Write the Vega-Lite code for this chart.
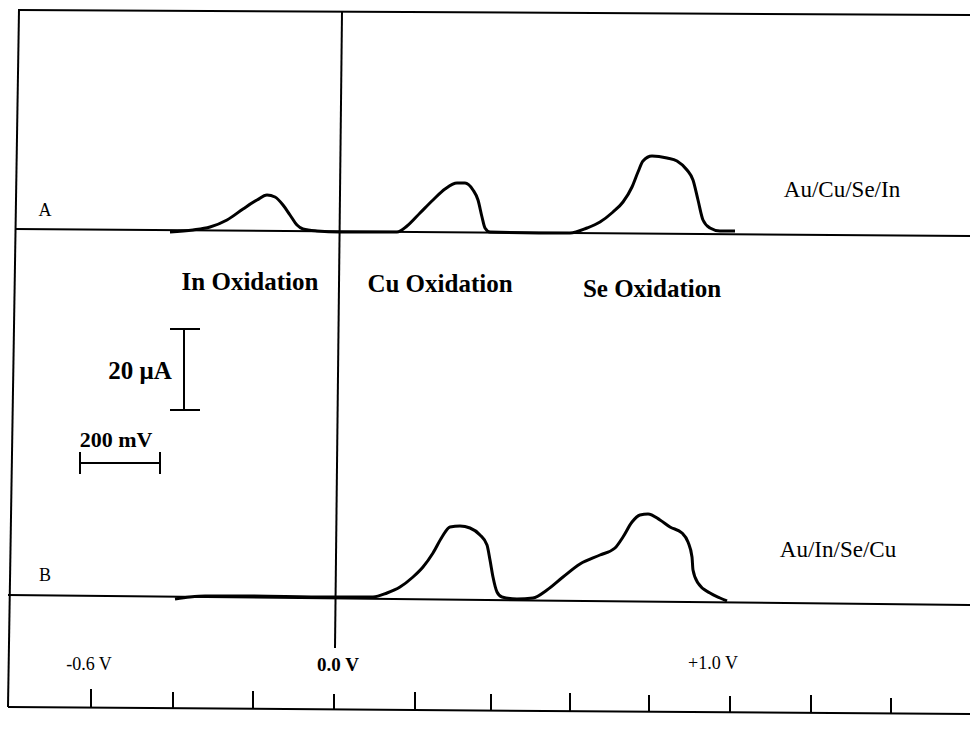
{
  "$schema": "https://vega.github.io/schema/vega-lite/v6.json",
  "width": 970,
  "height": 729,
  "padding": 0,
  "autosize": {"type": "none"},
  "background": "white",
  "config": {"view": {"stroke": null}, "text": {"font": "Liberation Serif", "color": "black"}},
  "datasets": {
    "frame": [
      {"part": "top", "V": -0.785, "y": 179.75, "V2": 1.595, "y2": 178.5},
      {"part": "left", "V": -0.7825, "y": 179.75, "V2": -0.81, "y2": 5.5},
      {"part": "zero", "V": 0.025, "y": 179.25, "V2": 0.0075, "y2": 20.25},
      {"part": "baseA", "V": -0.7925, "y": 125, "V2": 1.595, "y2": 123.25},
      {"part": "baseB", "V": -0.81, "y": 33.5, "V2": 1.595, "y2": 31},
      {"part": "bottom", "V": -0.81, "y": 5.5, "V2": 1.595, "y2": 3.75},
      {"part": "barV", "V": -0.37, "y": 100, "V2": -0.37, "y2": 79.75},
      {"part": "barVcap1", "V": -0.405, "y": 100, "V2": -0.33, "y2": 100},
      {"part": "barVcap2", "V": -0.405, "y": 79.75, "V2": -0.33, "y2": 79.75},
      {"part": "barH", "V": -0.63, "y": 66.5, "V2": -0.43, "y2": 66.5},
      {"part": "barHcap1", "V": -0.63, "y": 69.25, "V2": -0.63, "y2": 63.75},
      {"part": "barHcap2", "V": -0.43, "y": 69.25, "V2": -0.43, "y2": 63.75}
    ],
    "ticks": [
      {"V": -0.6025, "y": 5.4, "y2": 10},
      {"V": -0.3975, "y": 5.25, "y2": 9.25},
      {"V": -0.1975, "y": 5.1, "y2": 9.5},
      {"V": 0.005, "y": 4.95, "y2": 8.75},
      {"V": 0.2075, "y": 4.8, "y2": 9.25},
      {"V": 0.3975, "y": 4.65, "y2": 8.75},
      {"V": 0.595, "y": 4.5, "y2": 9},
      {"V": 0.7925, "y": 4.35, "y2": 8.5},
      {"V": 0.995, "y": 4.2, "y2": 8.25},
      {"V": 1.1975, "y": 4.05, "y2": 8.5},
      {"V": 1.3975, "y": 3.9, "y2": 7.75}
    ],
    "curves": [
      {"trace": "A", "i": 1, "V": -0.405, "y": 124.25},
      {"trace": "A", "i": 2, "V": -0.3475, "y": 124.75},
      {"trace": "A", "i": 3, "V": -0.305, "y": 125.5},
      {"trace": "A", "i": 4, "V": -0.2625, "y": 127.25},
      {"trace": "A", "i": 5, "V": -0.2225, "y": 130},
      {"trace": "A", "i": 6, "V": -0.1875, "y": 132.25},
      {"trace": "A", "i": 7, "V": -0.1625, "y": 133.5},
      {"trace": "A", "i": 8, "V": -0.1425, "y": 133},
      {"trace": "A", "i": 9, "V": -0.1225, "y": 131},
      {"trace": "A", "i": 10, "V": -0.105, "y": 128.5},
      {"trace": "A", "i": 11, "V": -0.0875, "y": 126},
      {"trace": "A", "i": 12, "V": -0.0725, "y": 125},
      {"trace": "A", "i": 13, "V": -0.0375, "y": 124.5},
      {"trace": "A", "i": 14, "V": 0.02, "y": 124.25},
      {"trace": "A", "i": 15, "V": 0.1625, "y": 124.25},
      {"trace": "A", "i": 16, "V": 0.1875, "y": 125.75},
      {"trace": "A", "i": 17, "V": 0.22, "y": 129},
      {"trace": "A", "i": 18, "V": 0.2525, "y": 132.25},
      {"trace": "A", "i": 19, "V": 0.2825, "y": 135},
      {"trace": "A", "i": 20, "V": 0.3125, "y": 136.5},
      {"trace": "A", "i": 21, "V": 0.3325, "y": 136.5},
      {"trace": "A", "i": 22, "V": 0.3525, "y": 134.75},
      {"trace": "A", "i": 23, "V": 0.365, "y": 132.25},
      {"trace": "A", "i": 24, "V": 0.375, "y": 128},
      {"trace": "A", "i": 25, "V": 0.3825, "y": 125.25},
      {"trace": "A", "i": 26, "V": 0.395, "y": 124.25},
      {"trace": "A", "i": 27, "V": 0.595, "y": 124},
      {"trace": "A", "i": 28, "V": 0.6375, "y": 125.25},
      {"trace": "A", "i": 29, "V": 0.67, "y": 126.75},
      {"trace": "A", "i": 30, "V": 0.7025, "y": 129.25},
      {"trace": "A", "i": 31, "V": 0.7275, "y": 131.75},
      {"trace": "A", "i": 32, "V": 0.75, "y": 135.5},
      {"trace": "A", "i": 33, "V": 0.765, "y": 139.25},
      {"trace": "A", "i": 34, "V": 0.7775, "y": 142},
      {"trace": "A", "i": 35, "V": 0.8, "y": 143.25},
      {"trace": "A", "i": 36, "V": 0.8375, "y": 142.75},
      {"trace": "A", "i": 37, "V": 0.8625, "y": 142},
      {"trace": "A", "i": 38, "V": 0.8875, "y": 139.75},
      {"trace": "A", "i": 39, "V": 0.9025, "y": 137.25},
      {"trace": "A", "i": 40, "V": 0.915, "y": 132.25},
      {"trace": "A", "i": 41, "V": 0.9275, "y": 127.25},
      {"trace": "A", "i": 42, "V": 0.945, "y": 125.25},
      {"trace": "A", "i": 43, "V": 0.97, "y": 124.5},
      {"trace": "A", "i": 44, "V": 1.0075, "y": 124.5},
      {"trace": "B", "i": 1, "V": -0.3925, "y": 32.5},
      {"trace": "B", "i": 2, "V": -0.355, "y": 33},
      {"trace": "B", "i": 3, "V": -0.3175, "y": 33.25},
      {"trace": "B", "i": 4, "V": -0.23, "y": 33.25},
      {"trace": "B", "i": 5, "V": -0.005, "y": 33},
      {"trace": "B", "i": 6, "V": 0.1025, "y": 33},
      {"trace": "B", "i": 7, "V": 0.1375, "y": 34},
      {"trace": "B", "i": 8, "V": 0.17, "y": 35.5},
      {"trace": "B", "i": 9, "V": 0.2025, "y": 38},
      {"trace": "B", "i": 10, "V": 0.2275, "y": 40.5},
      {"trace": "B", "i": 11, "V": 0.2525, "y": 44},
      {"trace": "B", "i": 12, "V": 0.275, "y": 48},
      {"trace": "B", "i": 13, "V": 0.295, "y": 50.5},
      {"trace": "B", "i": 14, "V": 0.32, "y": 50.75},
      {"trace": "B", "i": 15, "V": 0.345, "y": 50.25},
      {"trace": "B", "i": 16, "V": 0.37, "y": 48.5},
      {"trace": "B", "i": 17, "V": 0.3875, "y": 46},
      {"trace": "B", "i": 18, "V": 0.395, "y": 42.25},
      {"trace": "B", "i": 19, "V": 0.4025, "y": 38},
      {"trace": "B", "i": 20, "V": 0.4125, "y": 34.25},
      {"trace": "B", "i": 21, "V": 0.425, "y": 33},
      {"trace": "B", "i": 22, "V": 0.4625, "y": 32.5},
      {"trace": "B", "i": 23, "V": 0.5025, "y": 32.75},
      {"trace": "B", "i": 24, "V": 0.5375, "y": 34.75},
      {"trace": "B", "i": 25, "V": 0.5775, "y": 38},
      {"trace": "B", "i": 26, "V": 0.62, "y": 41.25},
      {"trace": "B", "i": 27, "V": 0.67, "y": 43.5},
      {"trace": "B", "i": 28, "V": 0.7075, "y": 45.25},
      {"trace": "B", "i": 29, "V": 0.7275, "y": 48},
      {"trace": "B", "i": 30, "V": 0.75, "y": 51.75},
      {"trace": "B", "i": 31, "V": 0.77, "y": 53.5},
      {"trace": "B", "i": 32, "V": 0.79, "y": 53.75},
      {"trace": "B", "i": 33, "V": 0.82, "y": 52.25},
      {"trace": "B", "i": 34, "V": 0.845, "y": 50.5},
      {"trace": "B", "i": 35, "V": 0.875, "y": 49},
      {"trace": "B", "i": 36, "V": 0.89, "y": 46.75},
      {"trace": "B", "i": 37, "V": 0.9, "y": 43},
      {"trace": "B", "i": 38, "V": 0.9025, "y": 39.75},
      {"trace": "B", "i": 39, "V": 0.915, "y": 36.5},
      {"trace": "B", "i": 40, "V": 0.945, "y": 34},
      {"trace": "B", "i": 41, "V": 0.97, "y": 32.75},
      {"trace": "B", "i": 42, "V": 0.9875, "y": 32}
    ],
    "labels": [
      {"group": "ox", "text": "In Oxidation", "V": -0.205, "y": 111.75},
      {"group": "ox", "text": "Cu Oxidation", "V": 0.27, "y": 111.25},
      {"group": "ox", "text": "Se Oxidation", "V": 0.8, "y": 110},
      {"group": "mu", "text": "20 μA", "V": -0.48, "y": 89.5},
      {"group": "scale", "text": "200 mV", "V": -0.54, "y": 72.25},
      {"group": "sample", "text": "Au/Cu/Se/In", "V": 1.275, "y": 134.75},
      {"group": "sample", "text": "Au/In/Se/Cu", "V": 1.265, "y": 44.75},
      {"group": "letter", "text": "A", "V": -0.7175, "y": 129.5},
      {"group": "letter", "text": "B", "V": -0.7175, "y": 38.25},
      {"group": "tick", "text": "-0.6 V", "V": -0.6075, "y": 16},
      {"group": "tick", "text": "+1.0 V", "V": 0.9525, "y": 16.25},
      {"group": "zero", "text": "0.0 V", "V": 0.015, "y": 16}
    ]
  },
  "encoding": {
    "x": {"field": "V", "type": "quantitative", "scale": {"domain": [-0.83, 1.595], "nice": false, "zero": false}, "axis": null},
    "y": {"field": "y", "type": "quantitative", "scale": {"domain": [0, 182.25], "nice": false, "zero": false}, "axis": null}
  },
  "layer": [
    {
      "data": {"name": "frame"},
      "mark": {"type": "rule", "color": "black", "strokeWidth": 2},
      "encoding": {"x2": {"field": "V2"}, "y2": {"field": "y2"}}
    },
    {
      "data": {"name": "ticks"},
      "mark": {"type": "rule", "color": "black", "strokeWidth": 2},
      "encoding": {"y2": {"field": "y2"}}
    },
    {
      "data": {"name": "curves"},
      "mark": {"type": "line", "color": "black", "strokeWidth": 3, "interpolate": "monotone"},
      "encoding": {"detail": {"field": "trace"}, "order": {"field": "i", "type": "quantitative"}}
    },
    {
      "data": {"name": "labels"},
      "transform": [{"filter": "datum.group === 'ox'"}],
      "mark": {"type": "text", "fontSize": 25, "fontWeight": "bold", "align": "center", "baseline": "middle"},
      "encoding": {"text": {"field": "text"}}
    },
    {
      "data": {"name": "labels"},
      "transform": [{"filter": "datum.group === 'mu'"}],
      "mark": {"type": "text", "fontSize": 25, "fontWeight": "bold", "align": "center", "baseline": "middle"},
      "encoding": {"text": {"field": "text"}}
    },
    {
      "data": {"name": "labels"},
      "transform": [{"filter": "datum.group === 'scale'"}],
      "mark": {"type": "text", "fontSize": 22, "fontWeight": "bold", "align": "center", "baseline": "middle"},
      "encoding": {"text": {"field": "text"}}
    },
    {
      "data": {"name": "labels"},
      "transform": [{"filter": "datum.group === 'sample'"}],
      "mark": {"type": "text", "fontSize": 23, "align": "center", "baseline": "middle"},
      "encoding": {"text": {"field": "text"}}
    },
    {
      "data": {"name": "labels"},
      "transform": [{"filter": "datum.group === 'letter'"}],
      "mark": {"type": "text", "fontSize": 18, "align": "center", "baseline": "middle"},
      "encoding": {"text": {"field": "text"}}
    },
    {
      "data": {"name": "labels"},
      "transform": [{"filter": "datum.group === 'tick'"}],
      "mark": {"type": "text", "fontSize": 18, "align": "center", "baseline": "middle"},
      "encoding": {"text": {"field": "text"}}
    },
    {
      "data": {"name": "labels"},
      "transform": [{"filter": "datum.group === 'zero'"}],
      "mark": {"type": "text", "fontSize": 19, "fontWeight": "bold", "align": "center", "baseline": "middle"},
      "encoding": {"text": {"field": "text"}}
    }
  ]
}
